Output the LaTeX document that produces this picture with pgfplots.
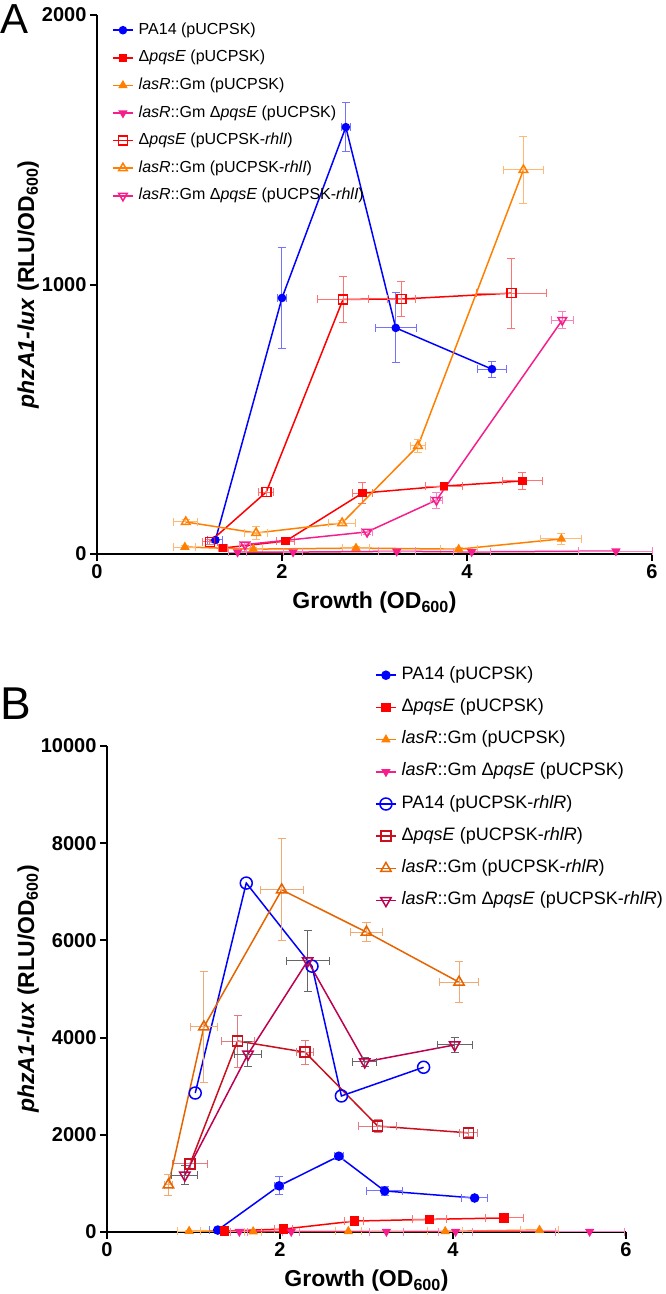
\documentclass[border=0pt]{standalone}
\usepackage{fontspec}
\setmainfont{Liberation Sans}
\usepackage{pgfplots}
\pgfplotsset{compat=1.18}
\definecolor{cblue}{RGB}{0,0,255}
\definecolor{cred}{RGB}{255,0,0}
\definecolor{corange}{RGB}{255,128,0}
\definecolor{cpink}{RGB}{245,30,140}
\definecolor{cdred}{RGB}{200,16,30}
\definecolor{cdorange}{RGB}{230,100,0}
\definecolor{ccrimson}{RGB}{190,0,80}
\pgfplotsset{
  prism/.style={
    scale only axis,
    axis x line=bottom, axis y line=left,
    axis line style={-,line width=2pt},
    tick align=outside, major tick length=7pt,
    every tick/.style={line width=2pt,black},
    xmin=0,xmax=6,xtick={0,2,4,6},ymin=0,
    clip=false,
    scaled y ticks=false,
    /pgf/number format/set thousands separator={},
    /pgf/number format/assume math mode=true,
    tick label style={font=\fontsize{20}{24}\selectfont\bfseries},
    label style={font=\fontsize{23}{27}\selectfont\bfseries},
    xlabel={Growth (OD\textsubscript{600})},
    ylabel={\textit{phzA1-lux} (RLU/OD\textsubscript{600})},
    xlabel style={at={(axis description cs:0.5,0)},anchor=center,yshift=-49pt},
    legend cell align=left,
    legend image code/.code={\draw[mark repeat=2,mark phase=2] plot coordinates {(0pt,0pt) (10pt,0pt) (20pt,0pt)};},
    every axis plot/.append style={line width=1.5pt},
  },
  eb/.style={error bars/.cd, x dir=both, x explicit, y dir=both, y explicit,
    error bar style={line width=1pt,#1},
    error mark=-,
    error mark options={rotate=90,solid,mark size=4pt,line width=1pt,#1}},
}
\begin{document}
\begin{tikzpicture}
\useasboundingbox (0,0) rectangle (666pt,-1294pt);
\node[anchor=base west,inner sep=0pt,font=\fontsize{42}{48}\selectfont] at (0pt,-33pt) {A};
\node[anchor=base west,inner sep=0pt,font=\fontsize{46}{52}\selectfont] at (0pt,-719pt) {B};
% ---------------- Panel A
\begin{axis}[prism, at={(97pt,-554pt)}, anchor=south west,
  width=555pt, height=539pt, ymax=2000, ytick={0,1000,2000},
  ylabel style={at={(axis description cs:-0.124,0.5)},anchor=center},
  legend style={draw=none,fill=none,inner sep=0pt,at={(axis description cs:0,1)},anchor=north west,xshift=15pt,yshift=-5pt,
    font=\fontsize{16}{19}\selectfont, row sep=7.6pt, column sep=3pt,
    nodes={text height=12pt,text depth=4pt,inner sep=2pt}},
]
\addplot[cblue,mark=*,mark size=3.5pt,eb=cblue!55] table[x=x,y=y,x error=ex,y error=ey]{
x y ex ey
1.28 52 0.08 10
2.00 950 0.05 188
2.69 1584 0.05 90
3.23 839 0.22 130
4.27 686 0.16 30
};
\addlegendentry{PA14 (pUCPSK)}
\addplot[cred,mark=square*,mark size=3.5pt,eb=cred!55] table[x=x,y=y,x error=ex,y error=ey]{
x y ex ey
1.36 22 0.05 5
2.04 48 0.10 10
2.87 226 0.11 38
3.75 252 0.20 15
4.60 271 0.22 30
};
\addlegendentry{Δ\textit{pqsE} (pUCPSK)}
\addplot[corange,mark=triangle*,mark size=4pt,eb=corange!55] table[x=x,y=y,x error=ex,y error=ey]{
x y ex ey
0.95 26 0.12 5
1.69 18 0.10 5
2.80 22 0.15 5
3.91 18 0.20 5
5.02 56 0.22 20
};
\addlegendentry{\textit{lasR}::Gm (pUCPSK)}
\addplot[cpink,mark=triangle*,mark options={rotate=180},mark size=4pt,eb=cpink!55] table[x=x,y=y,x error=ex,y error=ey]{
x y ex ey
1.52 7 0.10 3
2.12 7 0.10 3
3.24 10 0.20 3
4.05 8 0.20 3
5.61 11 0.40 3
};
\addlegendentry{\textit{lasR}::Gm Δ\textit{pqsE} (pUCPSK)}
\addplot[cred,mark=square,mark size=4.5pt,eb=cred!55] table[x=x,y=y,x error=ex,y error=ey]{
x y ex ey
1.22 45 0.08 8
1.83 230 0.08 15
2.66 945 0.28 85
3.29 946 0.15 65
4.48 968 0.38 130
};
\addlegendentry{Δ\textit{pqsE} (pUCPSK-\textit{rhlI})}
\addplot[corange,mark=triangle,mark size=5pt,eb=corange!55] table[x=x,y=y,x error=ex,y error=ey]{
x y ex ey
0.96 119 0.13 10
1.72 78 0.12 25
2.65 115 0.15 10
3.47 401 0.08 25
4.61 1425 0.22 125
};
\addlegendentry{\textit{lasR}::Gm (pUCPSK-\textit{rhlI})}
\addplot[cpink,mark=triangle,mark options={rotate=180},mark size=5pt,eb=cpink!55] table[x=x,y=y,x error=ex,y error=ey]{
x y ex ey
1.60 35 0.06 8
2.92 82 0.06 8
3.67 200 0.06 30
5.03 868 0.12 30
};
\addlegendentry{\textit{lasR}::Gm Δ\textit{pqsE} (pUCPSK-\textit{rhlI})}
\end{axis}
% ---------------- Panel B
\begin{axis}[prism, at={(107pt,-1232pt)}, anchor=south west,
  width=519pt, height=486pt, ymax=10000, ytick={0,2000,4000,6000,8000,10000},
  ylabel style={at={(axis description cs:-0.152,0.5)},anchor=center},
  legend style={draw=none,fill=none,inner sep=0pt,at={(axis description cs:0,1)},anchor=north west,xshift=268pt,yshift=82pt,
    font=\fontsize{18}{22}\selectfont, row sep=10.2pt, column sep=3pt,
    nodes={text height=13pt,text depth=5pt,inner sep=2pt}},
]
\addplot[cblue,mark=*,mark size=4pt,eb=cblue!55] table[x=x,y=y,x error=ex,y error=ey]{
x y ex ey
1.28 40 0.10 20
1.99 950 0.05 185
2.68 1560 0.05 60
3.21 845 0.21 100
4.25 700 0.15 40
};
\addlegendentry{PA14 (pUCPSK)}
\addplot[cred,mark=square*,mark size=4pt,eb=cred!55] table[x=x,y=y,x error=ex,y error=ey]{
x y ex ey
1.36 20 0.05 10
2.04 60 0.10 20
2.86 225 0.11 40
3.73 260 0.20 20
4.59 290 0.22 30
};
\addlegendentry{Δ\textit{pqsE} (pUCPSK)}
\addplot[corange,mark=triangle*,mark size=4pt,eb=corange!55] table[x=x,y=y,x error=ex,y error=ey]{
x y ex ey
0.95 20 0.13 5
1.69 10 0.10 5
2.79 15 0.15 5
3.91 15 0.20 5
5.00 40 0.22 20
};
\addlegendentry{\textit{lasR}::Gm (pUCPSK)}
\addplot[cpink,mark=triangle*,mark options={rotate=180},mark size=4pt,eb=cpink!55] table[x=x,y=y,x error=ex,y error=ey]{
x y ex ey
1.53 10 0.10 5
2.13 10 0.10 5
3.23 10 0.20 5
4.03 10 0.20 5
5.58 10 0.40 5
};
\addlegendentry{\textit{lasR}::Gm Δ\textit{pqsE} (pUCPSK)}
\addplot[cblue,mark=o,mark size=6pt] table[x=x,y=y]{
x y
1.02 2860
1.61 7180
2.37 5470
2.71 2800
3.66 3390
};
\addlegendentry{PA14 (pUCPSK-\textit{rhlR})}
\addplot[cdred,mark=square,mark size=5pt,eb=cdred!55] table[x=x,y=y,x error=ex,y error=ey]{
x y ex ey
0.96 1400 0.20 100
1.51 3930 0.19 535
2.29 3700 0.10 250
3.13 2180 0.22 130
4.18 2040 0.10 80
};
\addlegendentry{Δ\textit{pqsE} (pUCPSK-\textit{rhlR})}
\addplot[cdorange,mark=triangle,mark size=6pt,eb=cdorange!55] table[x=x,y=y,x error=ex,y error=ey]{
x y ex ey
0.71 970 0.05 220
1.12 4220 0.16 1150
2.02 7040 0.25 1050
3.00 6170 0.18 200
4.07 5140 0.23 420
};
\addlegendentry{\textit{lasR}::Gm (pUCPSK-\textit{rhlR})}
\addplot[ccrimson,mark=triangle,mark options={rotate=180},mark size=6pt,eb=black!60] table[x=x,y=y,x error=ex,y error=ey]{
x y ex ey
0.90 1170 0.15 200
1.63 3660 0.16 250
2.32 5580 0.25 630
2.98 3500 0.14 100
4.02 3850 0.20 150
};
\addlegendentry{\textit{lasR}::Gm Δ\textit{pqsE} (pUCPSK-\textit{rhlR})}
\end{axis}
\end{tikzpicture}
\end{document}
